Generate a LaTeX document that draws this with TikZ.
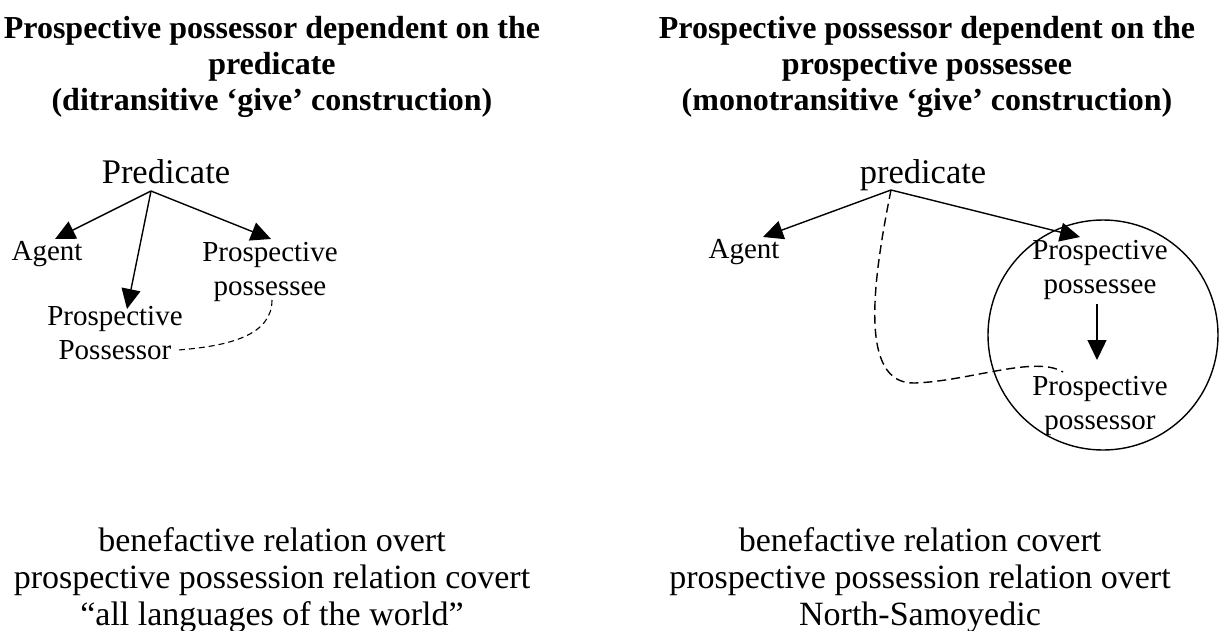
\documentclass[tikz,border=0pt]{standalone}
\usepackage{fontspec}
\setmainfont{Liberation Serif}
\usetikzlibrary{arrows.meta}
\begin{document}
\begin{tikzpicture}[x=1pt,y=-1pt,
  title/.style={font=\bfseries\fontsize{32}{36}\selectfont, align=center, inner sep=0pt, anchor=base},
  lbl/.style={font=\fontsize{29}{34}\selectfont, align=center, inner sep=0pt, anchor=base},
  predlbl/.style={font=\fontsize{34.5}{36}\selectfont, inner sep=0pt, anchor=base},
  foot/.style={font=\fontsize{34}{37}\selectfont, align=center, inner sep=0pt, anchor=base},
  arr/.style={line width=1.4pt, -{Triangle[length=20pt,width=19pt]}},
  dsh/.style={line width=1.1pt, dash pattern=on 6pt off 4pt},
  dshR/.style={line width=1.4pt, dash pattern=on 9pt off 5pt}
]
\useasboundingbox (0,0) rectangle (1224,630);
\fill[white] (0,0) rectangle (1224,630);

% ---------- left ----------
\node[title] (tL) at (272,110) {Prospective possessor dependent on the\\predicate\\(ditransitive ‘give’ construction)};
\node[predlbl] (predL) at (166,183) {Predicate};
\coordinate (apexL) at (151,191);
\node[lbl] (agentL) at (47,260) {Agent};
\node[lbl] (porL) at (115,359) {Prospective\\Possessor};
\node[lbl] (peeL) at (270,295) {Prospective\\possessee};
\coordinate (tipAgL) at (55,239);
\coordinate (tipPorL) at (127,309);
\coordinate (tipPeeL) at (271,239);
\draw[arr] (apexL) -- (tipAgL);
\draw[arr] (apexL) -- (tipPorL);
\draw[arr] (apexL) -- (tipPeeL);
\coordinate (dL1) at (272,300);
\coordinate (dL2) at (178,350);
\draw[dsh] (dL1) .. controls (272,335) and (230,346) .. (dL2);
\node[foot] (fL) at (272,625) {benefactive relation overt\\prospective possession relation covert\\“all languages of the world”};

% ---------- right ----------
\node[title] (tR) at (927,110) {Prospective possessor dependent on the\\prospective possessee\\(monotransitive ‘give’ construction)};
\node[predlbl] (predR) at (923,183) {predicate};
\coordinate (apexR) at (891,190);
\node[lbl] (agentR) at (744,258) {Agent};
\node[draw, circle, line width=1.4pt, minimum size=230pt, inner sep=0pt] (circ) at (1103,335) {};
\node[lbl] (peeR) at (1100,293) {Prospective\\possessee};
\node[lbl] (porR) at (1100,429) {Prospective\\possessor};
\coordinate (tipAgR) at (763,237);
\coordinate (tipPeeR) at (1080,237);
\draw[arr] (apexR) -- (tipAgR);
\draw[arr] (apexR) -- (tipPeeR);
\coordinate (aTop) at (1097,304);
\coordinate (aBot) at (1097,360);
\draw[arr] (aTop) -- (aBot);
\coordinate (dR2) at (1063,372);
\draw[dshR] (apexR) .. controls (873,280) and (858,385) .. (915,383) .. controls (970,381) and (1035,355) .. (dR2);
\node[foot] (fR) at (920,625) {benefactive relation covert\\prospective possession relation overt\\North-Samoyedic};
\end{tikzpicture}
\end{document}
